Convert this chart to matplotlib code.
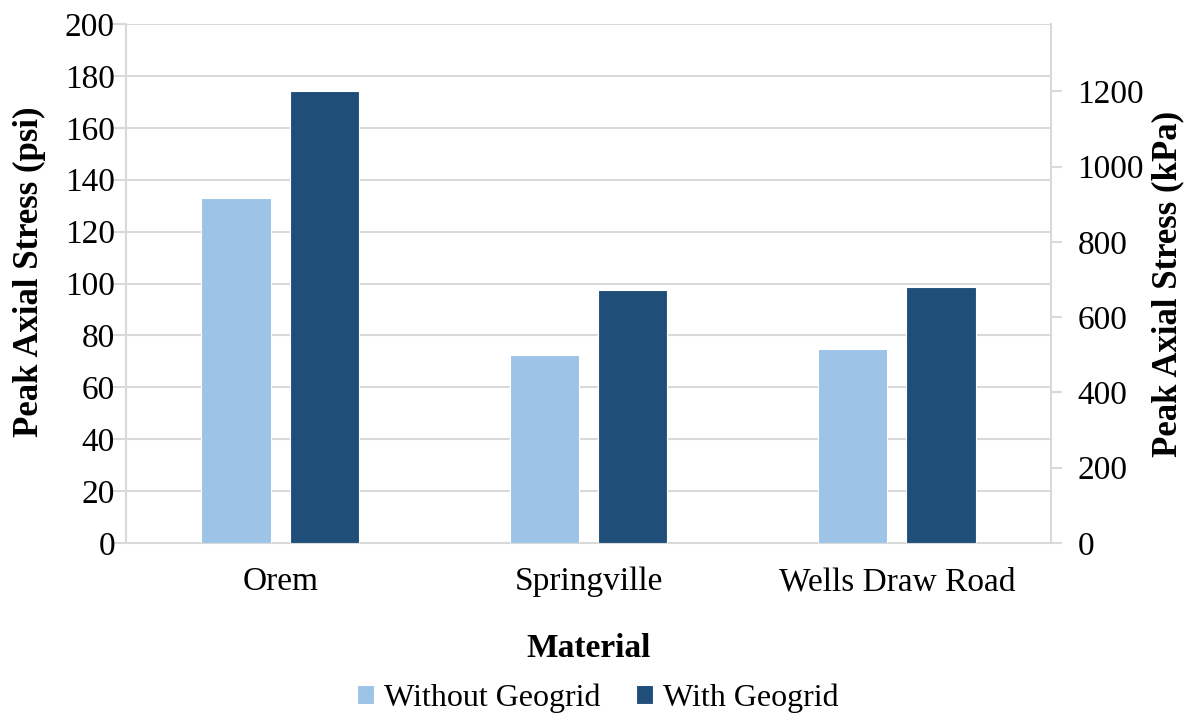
import matplotlib
matplotlib.use('Agg')
import matplotlib.pyplot as plt
import numpy as np

# ── Data ──────────────────────────────────────────────────────────────
materials = ['Orem', 'Springville', 'Wells Draw Road']
without_geogrid = [133, 72.5, 74.8]   # psi
with_geogrid = [174.2, 97.6, 98.7]    # psi
psi_to_kpa = 6.895

plt.rcParams['font.family'] = ['Liberation Serif', 'DejaVu Serif']

LIGHT = '#9DC3E6'
DARK = '#1F4E79'
GRID = '#D9D9D9'
FS = 24

fig = plt.figure(figsize=(11.95, 7.19), dpi=100)
ax = fig.add_axes([126 / 1195, 1 - 543 / 719, 925 / 1195, 519 / 719])

x = np.arange(len(materials))
bw = 0.225
off = 0.143
ax.bar(x - off, without_geogrid, bw, color=LIGHT, edgecolor='white',
       linewidth=0.8, label='Without Geogrid', zorder=3)
ax.bar(x + off, with_geogrid, bw, color=DARK, edgecolor='white',
       linewidth=0.8, label='With Geogrid', zorder=3)

ax.set_xlim(-0.5, 2.5)
ax.set_ylim(0, 200)
ax.set_yticks(range(0, 201, 20))
ax.set_xticks(x)
ax.set_xticklabels(materials)
ax.tick_params(axis='x', length=0, labelsize=FS, pad=17)
ax.tick_params(axis='y', length=10, width=1.5, color=GRID, labelsize=FS, pad=-2)
ax.grid(True, axis='y', color=GRID, linewidth=1.5, zorder=0)
for side in ['left', 'bottom']:
    ax.spines[side].set_color(GRID)
    ax.spines[side].set_linewidth(1.5)
for side in ['top', 'right']:
    ax.spines[side].set_visible(False)

ax.set_ylabel('Peak Axial Stress (psi)', fontsize=25, fontweight='bold')
ax.yaxis.set_label_coords(-0.104, 0.522)
ax.yaxis.label.set_va('center')
ax.set_xlabel('Material', fontsize=FS, fontweight='bold')
ax.xaxis.set_label_coords(0.5, -0.203)
ax.xaxis.label.set_va('center')

# ── Secondary axis (kPa) ──────────────────────────────────────────────
ax2 = ax.twinx()
ax2.set_ylim(0, 200 * psi_to_kpa)
ax2.set_yticks(range(0, 1201, 200))
ax2.tick_params(axis='y', length=8, width=1.5, color=GRID, labelsize=FS,
                pad=11)
for side in ['left', 'bottom', 'top']:
    ax2.spines[side].set_visible(False)
ax2.spines['right'].set_color(GRID)
ax2.spines['right'].set_linewidth(1.5)
ax2.set_ylabel('Peak Axial Stress (kPa)', fontsize=25, fontweight='bold')
ax2.yaxis.set_label_coords(1.1265, 0.5)
ax2.yaxis.label.set_va('center')

h, l = ax.get_legend_handles_labels()
fig.legend(h, l, loc='center', bbox_to_anchor=(0.5, 1 - 698 / 719), ncol=2,
           frameon=False, fontsize=23, handlelength=0.55, handleheight=0.55,
           handletextpad=0.3, columnspacing=1.1)

plt.savefig('out.png', dpi=100)
